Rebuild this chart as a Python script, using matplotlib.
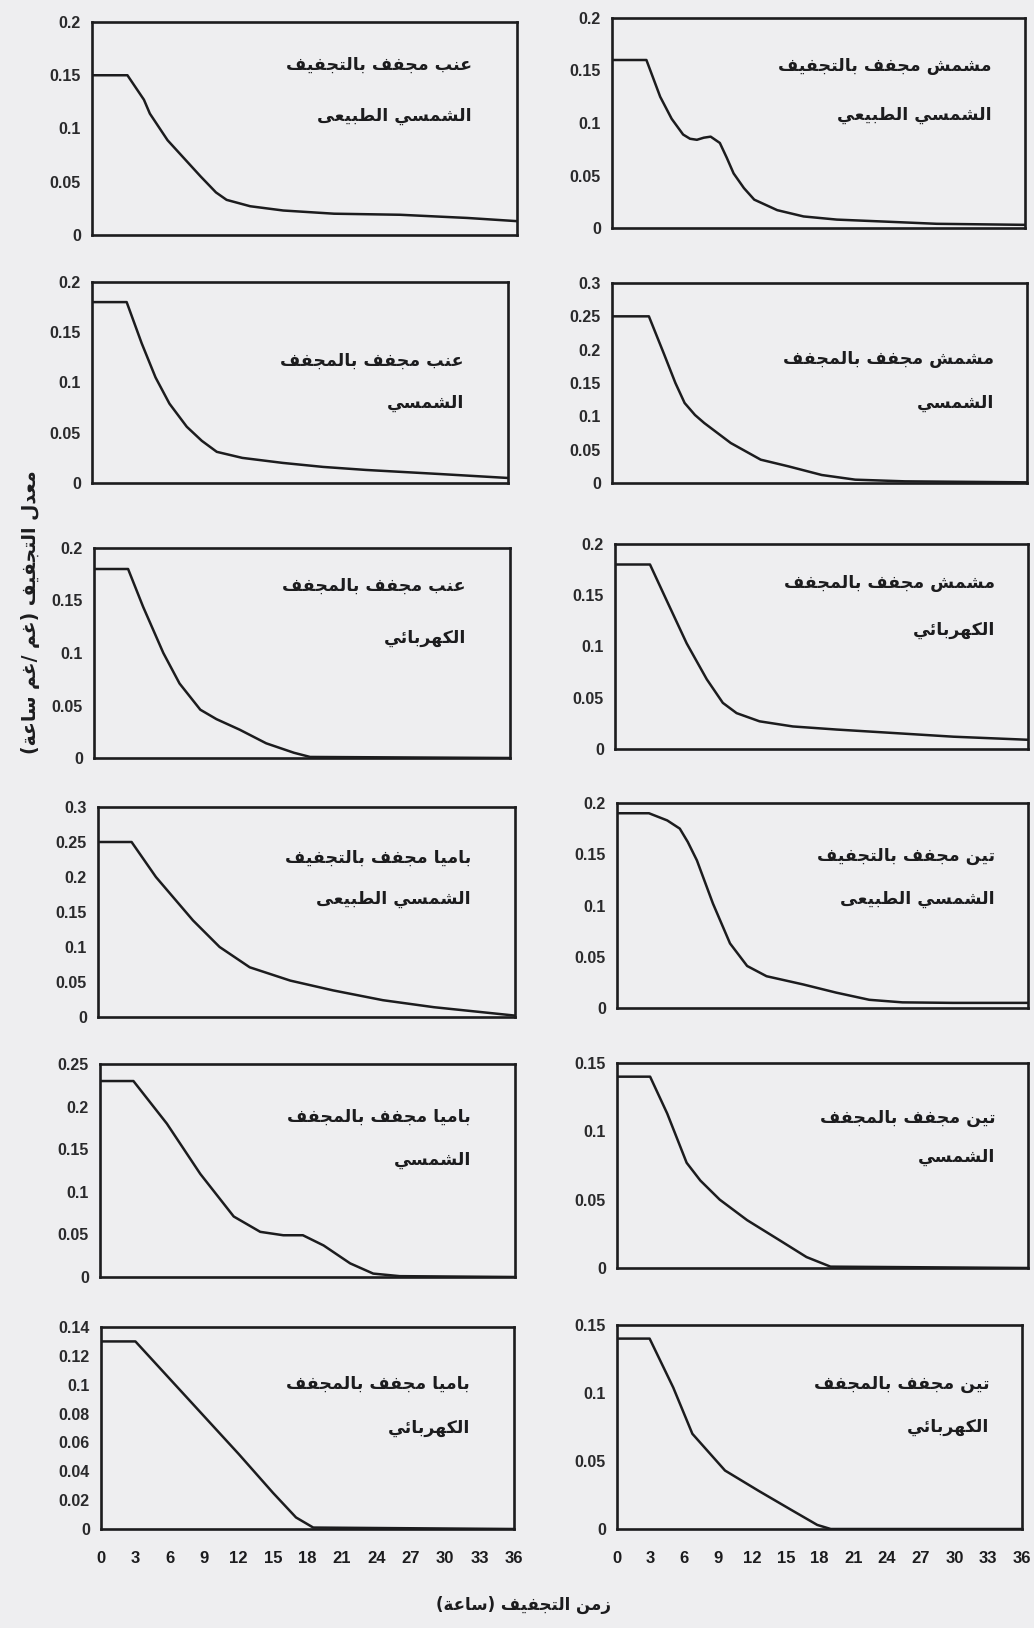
import numpy as np
import matplotlib
matplotlib.use("Agg")
import matplotlib.pyplot as plt

# ---------------- data ----------------
hours_ticks = [0, 3, 6, 9, 12, 15, 18, 21, 24, 27, 30, 33, 36]

grape_sun_h = [0, 3, 4.4, 4.9, 6.4, 9.2, 10.5, 11.4, 13.4, 16.2, 20.5, 26.1, 31.8, 36]
grape_sun_r = [0.15, 0.15, 0.127, 0.114, 0.089, 0.055, 0.040, 0.033, 0.027, 0.023, 0.020, 0.019, 0.016, 0.013]

apricot_sun_h = [0, 3, 4.2, 5.2, 6.2, 6.8, 7.4, 8.0, 8.6, 9.4, 10.0, 10.6, 11.5, 12.4, 14.4, 16.7, 19.6, 24, 28.3, 36]
apricot_sun_r = [0.16, 0.16, 0.125, 0.104, 0.089, 0.085, 0.084, 0.086, 0.087, 0.081, 0.067, 0.052, 0.038, 0.027, 0.017, 0.011, 0.008, 0.006, 0.004, 0.003]

grape_solar_h = [0, 3, 4.3, 5.5, 6.7, 8.2, 9.5, 10.8, 13, 16.5, 20, 23.7, 30, 36]
grape_solar_r = [0.18, 0.18, 0.139, 0.105, 0.079, 0.056, 0.042, 0.031, 0.025, 0.020, 0.016, 0.013, 0.009, 0.005]

apricot_solar_h = [0, 3.2, 4.5, 5.5, 6.3, 7.2, 8.0, 10.3, 12.9, 15.3, 18.2, 21.1, 25.4, 36]
apricot_solar_r = [0.25, 0.25, 0.194, 0.150, 0.120, 0.102, 0.090, 0.060, 0.035, 0.025, 0.012, 0.005, 0.0025, 0.001]

grape_elec_h = [0, 2.95, 4.25, 6.0, 7.4, 9.2, 10.6, 12.6, 14.9, 17.3, 18.7, 36]
grape_elec_r = [0.18, 0.18, 0.144, 0.100, 0.071, 0.046, 0.037, 0.027, 0.014, 0.005, 0.001, 0.0]

apricot_elec_h = [0, 3.05, 4.5, 6.25, 8.0, 9.4, 10.6, 12.6, 15.5, 19.3, 23.7, 29.5, 36]
apricot_elec_r = [0.18, 0.18, 0.145, 0.103, 0.068, 0.045, 0.035, 0.027, 0.022, 0.019, 0.016, 0.012, 0.009]

okra_sun_h = [0, 2.9, 5.0, 8.2, 10.5, 13.1, 16.6, 20.3, 24.6, 29, 36]
okra_sun_r = [0.25, 0.25, 0.200, 0.138, 0.100, 0.071, 0.052, 0.038, 0.024, 0.014, 0.002]

fig_sun_h = [0, 2.8, 4.4, 5.5, 6.2, 7.0, 8.4, 9.9, 11.4, 13.1, 16.3, 19.2, 22.1, 25, 29.4, 36]
fig_sun_r = [0.19, 0.19, 0.183, 0.175, 0.162, 0.144, 0.102, 0.063, 0.041, 0.031, 0.023, 0.015, 0.008, 0.0055, 0.005, 0.005]

okra_solar_h = [0, 2.9, 5.8, 8.7, 11.6, 13.9, 15.9, 17.6, 19.4, 21.7, 23.7, 26, 36]
okra_solar_r = [0.23, 0.23, 0.180, 0.121, 0.071, 0.053, 0.049, 0.049, 0.037, 0.016, 0.004, 0.001, 0.0]

fig_solar_h = [0, 2.9, 4.4, 6.1, 7.3, 9.0, 11.4, 14.3, 16.6, 18.7, 36]
fig_solar_r = [0.14, 0.14, 0.113, 0.077, 0.064, 0.050, 0.035, 0.020, 0.008, 0.001, 0.0]

okra_elec_h = [0, 3, 6, 9, 12, 15, 17, 18.5, 36]
okra_elec_r = [0.13, 0.13, 0.104, 0.078, 0.052, 0.025, 0.008, 0.001, 0.0]

fig_elec_h = [0, 2.9, 5.0, 6.7, 9.6, 12.6, 15.5, 17.8, 19, 36]
fig_elec_r = [0.14, 0.14, 0.104, 0.070, 0.043, 0.028, 0.014, 0.003, 0.0, 0.0]

# panel titles (line1, line2)
titles = [
    ("عنب مجفف بالتجفيف", "الشمسي الطبيعى"),
    ("مشمش مجفف بالتجفيف", "الشمسي الطبيعي"),
    ("عنب مجفف بالمجفف", "الشمسي"),
    ("مشمش مجفف بالمجفف", "الشمسي"),
    ("عنب مجفف بالمجفف", "الكهربائي"),
    ("مشمش مجفف بالمجفف", "الكهربائي"),
    ("باميا مجفف بالتجفيف", "الشمسي الطبيعى"),
    ("تين مجفف بالتجفيف", "الشمسي الطبيعى"),
    ("باميا مجفف بالمجفف", "الشمسي"),
    ("تين مجفف بالمجفف", "الشمسي"),
    ("باميا مجفف بالمجفف", "الكهربائي"),
    ("تين مجفف بالمجفف", "الكهربائي"),
]
y_max = [0.2, 0.2, 0.2, 0.3, 0.2, 0.2, 0.3, 0.2, 0.25, 0.15, 0.14, 0.15]
y_step = [0.05, 0.05, 0.05, 0.05, 0.05, 0.05, 0.05, 0.05, 0.05, 0.05, 0.02, 0.05]
ylabel_text = "معدل التجفيف (غم /غم ساعة)"
xlabel_text = "زمن التجفيف (ساعة)"

series = [
    (grape_sun_h, grape_sun_r), (apricot_sun_h, apricot_sun_r),
    (grape_solar_h, grape_solar_r), (apricot_solar_h, apricot_solar_r),
    (grape_elec_h, grape_elec_r), (apricot_elec_h, apricot_elec_r),
    (okra_sun_h, okra_sun_r), (fig_sun_h, fig_sun_r),
    (okra_solar_h, okra_solar_r), (fig_solar_h, fig_solar_r),
    (okra_elec_h, okra_elec_r), (fig_elec_h, fig_elec_r),
]

# ---------------- Arabic shaping ----------------
FORMS = {
    'ا': ('\uFE8D', '\uFE8E', None, None),
    'ب': ('\uFE8F', '\uFE90', '\uFE91', '\uFE92'),
    'ة': ('\uFE93', '\uFE94', None, None),
    'ت': ('\uFE95', '\uFE96', '\uFE97', '\uFE98'),
    'ج': ('\uFE9D', '\uFE9E', '\uFE9F', '\uFEA0'),
    'د': ('\uFEA9', '\uFEAA', None, None),
    'ر': ('\uFEAD', '\uFEAE', None, None),
    'ز': ('\uFEAF', '\uFEB0', None, None),
    'س': ('\uFEB1', '\uFEB2', '\uFEB3', '\uFEB4'),
    'ش': ('\uFEB5', '\uFEB6', '\uFEB7', '\uFEB8'),
    'ط': ('\uFEC1', '\uFEC2', '\uFEC3', '\uFEC4'),
    'ع': ('\uFEC9', '\uFECA', '\uFECB', '\uFECC'),
    'غ': ('\uFECD', '\uFECE', '\uFECF', '\uFED0'),
    'ف': ('\uFED1', '\uFED2', '\uFED3', '\uFED4'),
    'ك': ('\uFED9', '\uFEDA', '\uFEDB', '\uFEDC'),
    'ل': ('\uFEDD', '\uFEDE', '\uFEDF', '\uFEE0'),
    'م': ('\uFEE1', '\uFEE2', '\uFEE3', '\uFEE4'),
    'ن': ('\uFEE5', '\uFEE6', '\uFEE7', '\uFEE8'),
    'ه': ('\uFEE9', '\uFEEA', '\uFEEB', '\uFEEC'),
    'ى': ('\uFEEF', '\uFEF0', None, None),
    'ي': ('\uFEF1', '\uFEF2', '\uFEF3', '\uFEF4'),
    'ئ': ('\uFE89', '\uFE8A', '\uFE8B', '\uFE8C'),
}
MIRROR = {'(': ')', ')': '('}


def shape(text):
    chars = list(text)
    out = []
    i = 0
    while i < len(chars):
        c = chars[i]
        prev = chars[i - 1] if i > 0 else None
        nxt = chars[i + 1] if i + 1 < len(chars) else None
        jp = prev in FORMS and FORMS[prev][2] is not None
        if c == 'ل' and nxt == 'ا':
            out.append('\uFEFC' if jp else '\uFEFB')
            i += 2
            continue
        if c in FORMS:
            f = FORMS[c]
            jn = f[2] is not None and nxt in FORMS
            if jp and jn:
                out.append(f[3])
            elif jp:
                out.append(f[1])
            elif jn:
                out.append(f[2])
            else:
                out.append(f[0])
        else:
            out.append(c)
        i += 1
    vis = out[::-1]
    return ''.join(MIRROR.get(ch, ch) for ch in vis)


# ---------------- layout ----------------
W, H = 1034, 1628
boxes = [  # (left, top, right, bottom) in pixels
    (92, 22, 517, 235), (612, 18, 1025, 228),
    (92, 282, 508, 483), (612, 283, 1027, 483),
    (94, 548, 510, 758), (615, 544, 1028, 749),
    (98, 807, 515, 1017), (617, 803, 1028, 1008),
    (100, 1064, 515, 1277), (617, 1063, 1028, 1268),
    (101, 1327, 514, 1529), (617, 1325, 1022, 1529),
]
text_y = [(0.80, 0.56), (0.77, 0.54), (0.61, 0.40), (0.62, 0.40),
          (0.82, 0.57), (0.81, 0.58), (0.76, 0.56), (0.74, 0.53),
          (0.75, 0.55), (0.73, 0.54), (0.72, 0.50), (0.71, 0.50)]
text_x = [0.894, 0.92]

bg = '#eeeef0'
ink = '#1c1c1e'
arabic_font = ['DejaVu Sans']

fig = plt.figure(figsize=(W / 100, H / 100), dpi=100, facecolor=bg)

for k, (l, t, r, b) in enumerate(boxes):
    ax = fig.add_axes([l / W, 1 - b / H, (r - l) / W, (b - t) / H], facecolor=bg)
    h, v = series[k]
    ax.plot(h, v, color=ink, lw=1.8, solid_joinstyle='round')
    ax.set_xlim(0, 36)
    ax.set_ylim(0, y_max[k])
    yt = np.round(np.arange(0, y_max[k] + 1e-9, y_step[k]), 4)
    ax.set_yticks(yt)
    ax.set_yticklabels([f"{v_:g}" for v_ in yt], fontsize=11.5, family='Liberation Sans',
                       fontweight='bold', color='#2a2a2c')
    ax.tick_params(axis='y', length=0, pad=8)
    for s in ax.spines.values():
        s.set_linewidth(1.9)
        s.set_color(ink)
    if k >= 10:
        ax.set_xticks(hours_ticks)
        ax.set_xticklabels([str(x) for x in hours_ticks], fontsize=12,
                           family=['Liberation Sans Narrow', 'Liberation Sans'],
                           fontweight='bold', color=ink)
        ax.tick_params(axis='x', length=0, pad=16)
    else:
        ax.set_xticks([])
    col = k % 2
    l1, l2 = titles[k]
    y1, y2 = text_y[k]
    ax.text(text_x[col], y1, shape(l1), transform=ax.transAxes, ha='right', va='center',
            fontsize=12.5, fontweight='bold', family=arabic_font, color=ink)
    ax.text(text_x[col], y2, shape(l2), transform=ax.transAxes, ha='right', va='center',
            fontsize=12.5, fontweight='bold', family=arabic_font, color=ink)

fig.text(31 / W, 1 - 612 / H, shape(ylabel_text), rotation=90, ha='center', va='center',
         fontsize=13.5, fontweight='bold', family=arabic_font, color=ink)
fig.text(523 / W, 1 - 1605 / H, shape(xlabel_text), ha='center', va='center',
         fontsize=12, fontweight='bold', family=arabic_font, color=ink)

fig.savefig('out.png', dpi=100, facecolor=bg)
